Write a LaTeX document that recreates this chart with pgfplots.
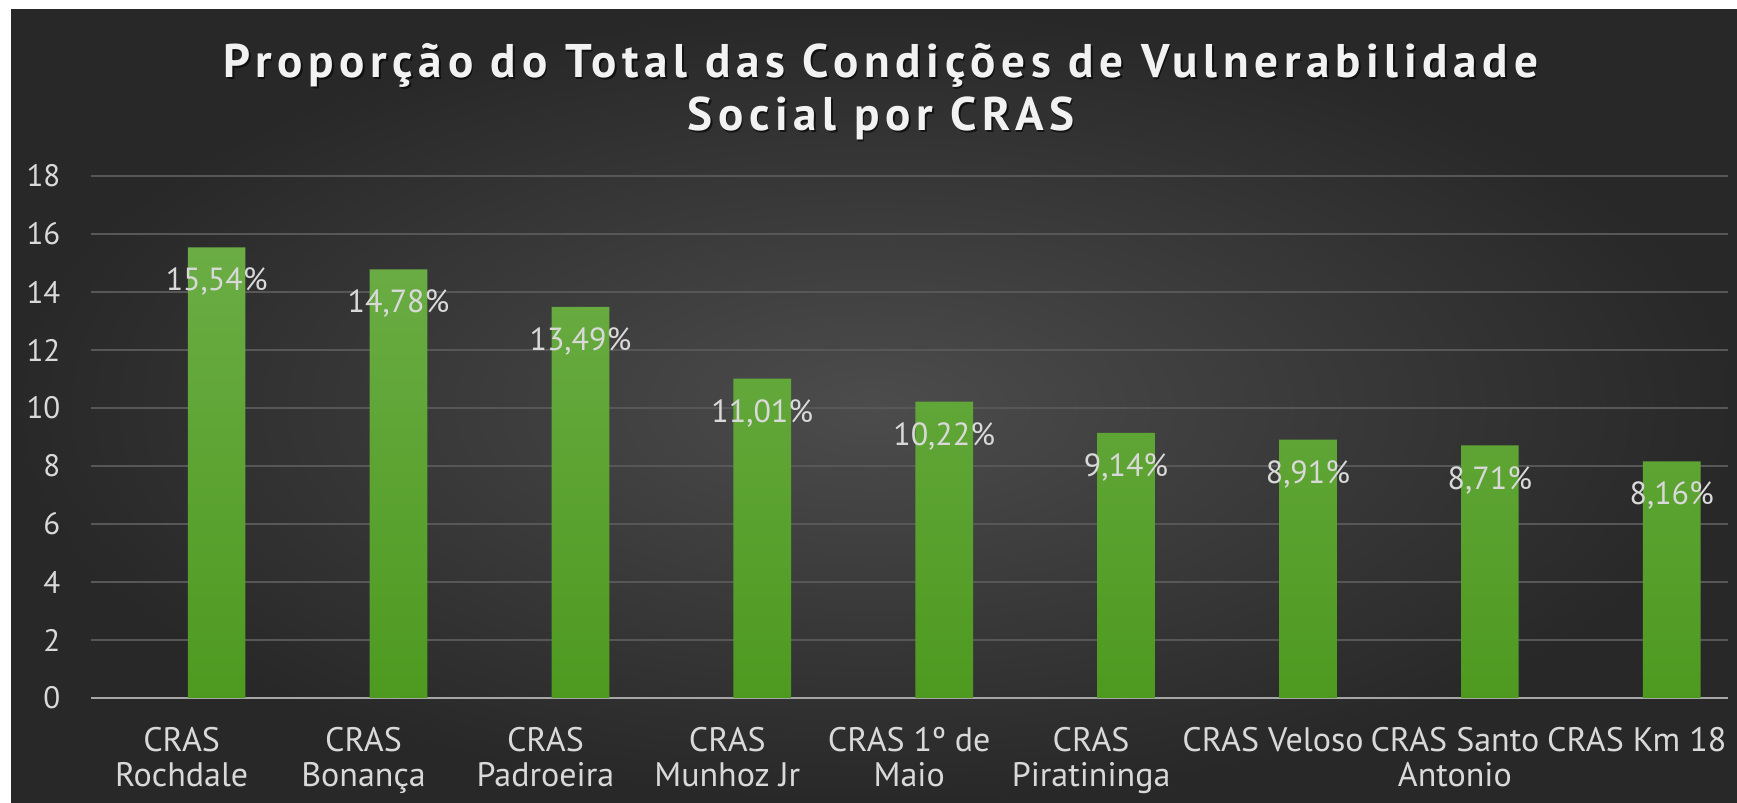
\documentclass[border=0pt]{standalone}
\usepackage{pgfplots}
\pgfplotsset{compat=1.18}
\usepackage{fontspec}
\setmainfont{PT Sans}
\newfontfamily\titlefont[LetterSpace=12]{PT Sans}
\definecolor{bgin}{HTML}{4C4C4C}
\definecolor{bgout}{HTML}{282828}
\definecolor{gridc}{HTML}{575757}
\definecolor{zeroc}{HTML}{A6A6A6}
\definecolor{txt}{HTML}{D9D9D9}
\definecolor{bartop}{HTML}{6BAD45}
\definecolor{barbot}{HTML}{4E9A20}
\begin{document}
\begin{tikzpicture}
\fill[white] (0,0) rectangle (868.5pt,401.5pt);
\shade[inner color=bgin, outer color=bgout] (5.5pt,0) rectangle (868.5pt,396.5pt);
\node[align=center, text=black, opacity=0.6, font=\titlefont\bfseries\fontsize{23.6}{26.5}\selectfont] at (441.3pt,354.8pt) {Proporção do Total das Condições de Vulnerabilidade\\Social por CRAS};
\node[align=center, text=white!95!black, font=\titlefont\bfseries\fontsize{23.6}{26.5}\selectfont] at (440.5pt,355.5pt) {Proporção do Total das Condições de Vulnerabilidade\\Social por CRAS};
\begin{axis}[
  scale only axis, width=818.5pt, height=261pt,
  at={(45.35pt,52.5pt)}, anchor=south west,
  xmin=-0.5, xmax=8.5, ymin=0, ymax=18,
  ytick={0,2,...,18}, xtick={0,...,8},
  xticklabels={{CRAS\\Rochdale},{CRAS\\Bonança},{CRAS\\Padroeira},{CRAS\\Munhoz Jr},{CRAS 1º de\\Maio},{CRAS\\Piratininga},{CRAS Veloso},{CRAS Santo\\Antonio},{CRAS Km 18}},
  axis line style={draw=none},
  tick style={draw=none},
  ymajorgrids, major grid style={draw=gridc, line width=0.75pt},
  extra y ticks={0}, extra y tick labels={},
  extra y tick style={major grid style={draw=zeroc, line width=1.1pt}},
  /pgf/number format/assume math mode=true,
  yticklabel style={font=\fontsize{15.5}{18}\selectfont, text=txt, inner sep=0pt, xshift=-15pt},
  xticklabel style={font=\fontsize{17}{17.5}\selectfont, align=center, text=txt, anchor=north, inner sep=0pt, yshift=-10pt},
  ybar, bar width=28.85pt, bar shift=17.5pt,
  nodes near coords={\pgfmathprintnumber[fixed,fixed zerofill,precision=2,use comma]{\pgfplotspointmeta}\%},
  every node near coord/.append style={anchor=center, yshift=-17.3pt, font=\fontsize{16}{18}\selectfont, text=txt},
]
\addplot[draw=none, top color=bartop, bottom color=barbot] coordinates {
(0,15.54) (1,14.78) (2,13.49) (3,11.01) (4,10.22) (5,9.14) (6,8.91) (7,8.71) (8,8.16)};
\end{axis}
\pgfresetboundingbox
\useasboundingbox (0,0) rectangle (868.5pt,401.5pt);
\end{tikzpicture}
\end{document}
